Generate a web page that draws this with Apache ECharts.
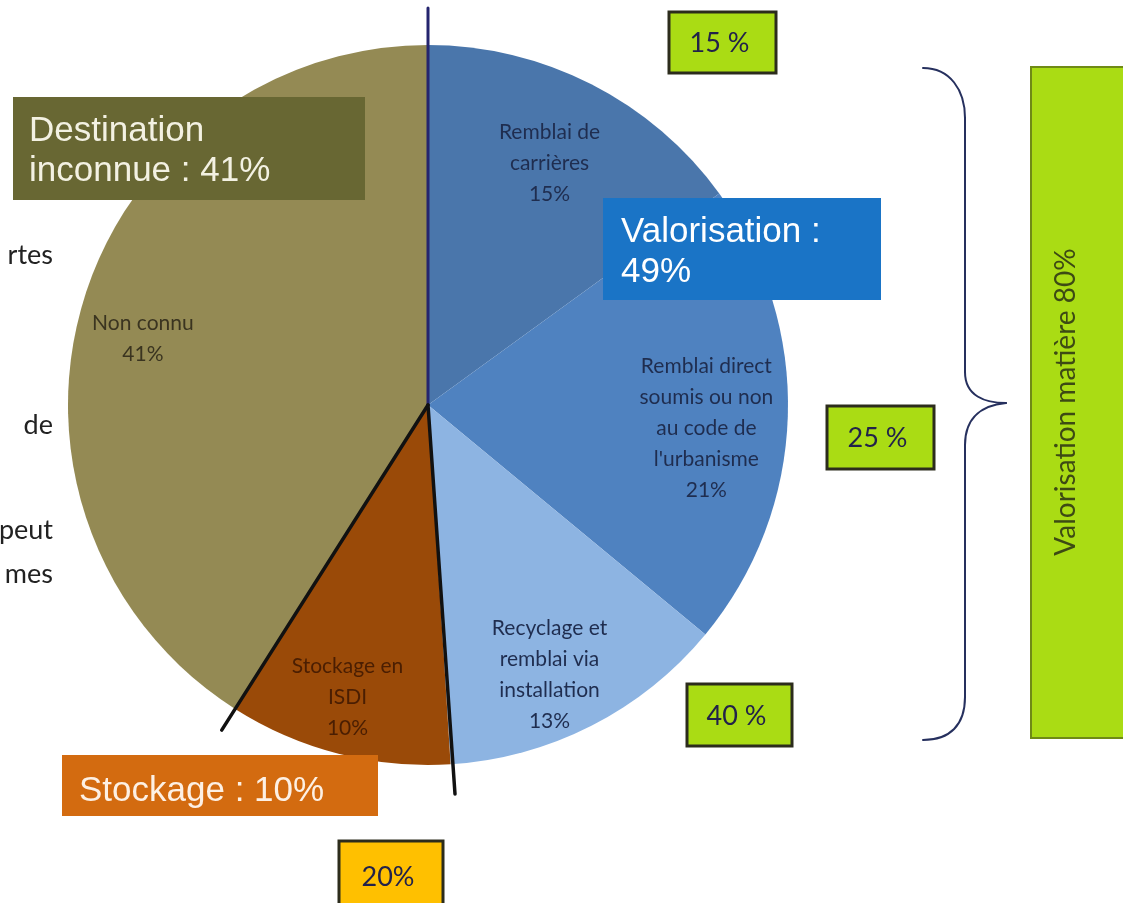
<!DOCTYPE html>
<html>
<head>
<meta charset="utf-8">
<script src="https://cdn.jsdelivr.net/npm/echarts@6/dist/echarts.min.js"></script>
<style>
  html, body { margin: 0; padding: 0; background: #fff; }
  #chart { width: 1123px; height: 903px; }
</style>
</head>
<body>
<div id="chart"></div>
<script>
// données du camembert (destination des déblais)
const categories = [
  'Remblai de\ncarrières',
  'Remblai direct\nsoumis ou non\nau code de\nl\'urbanisme',
  'Recyclage et\nremblai via\ninstallation',
  'Stockage en\nISDI',
  'Non connu'
];
const shares = [15, 21, 13, 10, 41];
const sliceColors = ['#4a76ab', '#4f82c0', '#8db4e2', '#9a4a08', '#948a54'];
const labelColors = ['#1f2d4f', '#1f2d4f', '#1f2d4f', '#4a1e02', '#3a3420'];

// encadrés d'annotation
const groupTexts = ['Destination\ninconnue : 41%', 'Valorisation :\n49%', 'Stockage : 10%'];
const boxTexts = ['15 %', '25 %', '40 %', '20%'];
const sideText = 'Valorisation matière 80%';
const leftFragments = ['rtes', 'de', 'peut', 'mes'];

const myChart = echarts.init(document.getElementById('chart'));

const pieData = categories.map((name, i) => ({
  name: name,
  value: shares[i],
  itemStyle: { color: sliceColors[i] }
}));
const labelData = categories.map((name, i) => ({
  name: name,
  value: shares[i],
  label: { color: labelColors[i] }
}));

const cx = 428, cy = 405, R = 360;

const lineStyle = (color, w) => ({ stroke: color, lineWidth: w, lineCap: 'round' });
const boxText = (t, x, y, size, color) => ({
  type: 'text', z: 110, x: x, y: y,
  style: { text: t, x: 0, y: 0, font: size + 'px "Liberation Sans", Arial, sans-serif',
    fill: color, lineHeight: 40, textAlign: 'left', textVerticalAlign: 'middle',
    align: 'left', verticalAlign: 'middle' }
});
const smallBox = (x, y, w, h, fill, t) => ([
  { type: 'rect', z: 100, shape: { x: x, y: y, width: w, height: h },
    style: { fill: fill, stroke: '#2c2c1c', lineWidth: 3 } },
  { type: 'text', z: 110, x: x + w / 2 - 3, y: y + h / 2 + 1,
    style: { text: t, x: 0, y: 0, font: '27px Lato, sans-serif', fill: '#22224a',
      textAlign: 'center', textVerticalAlign: 'middle', align: 'center', verticalAlign: 'middle' } }
]);
const fragment = (t, y) => ({
  type: 'text', z: 110, x: 53, y: y,
  style: { text: t, x: 0, y: 0, font: '27px Lato, sans-serif', fill: '#222',
    textAlign: 'right', textVerticalAlign: 'middle', align: 'right', verticalAlign: 'middle' }
});

// angle de la limite Stockage / Non connu
const cut = (shares[0] + shares[1] + shares[2] + shares[3]) / 100 * 2 * Math.PI;
const braceColor = '#26305e';
const graphics = [
  // traits sur le camembert
  { type: 'line', z: 90, shape: { x1: cx, y1: 8, x2: cx, y2: cy }, style: lineStyle('#24246e', 3) },
  { type: 'line', z: 90, shape: { x1: cx, y1: cy, x2: cx + 385 * Math.sin(cut), y2: cy - 385 * Math.cos(cut) }, style: lineStyle('#111', 3.5) },
  { type: 'line', z: 90, shape: { x1: cx, y1: cy, x2: 455, y2: 794 }, style: lineStyle('#111', 3.5) },

  // encadrés des groupes
  { type: 'rect', z: 100, shape: { x: 13, y: 97, width: 352, height: 103 }, style: { fill: '#686733' } },
  boxText(groupTexts[0], 29, 151, 35, '#f3f1e2'),
  { type: 'rect', z: 100, shape: { x: 603, y: 198, width: 278, height: 102 }, style: { fill: '#1a74c6' } },
  boxText(groupTexts[1], 621, 252, 35, '#ffffff'),
  { type: 'rect', z: 100, shape: { x: 62, y: 755, width: 316, height: 61 }, style: { fill: '#d36b10' } },
  boxText(groupTexts[2], 79, 791, 35, '#fdf0e4'),

  // accolade
  { type: 'bezierCurve', z: 90, shape: { x1: 923, y1: 68, cpx1: 950, cpy1: 68, cpx2: 965, cpy2: 90, x2: 965, y2: 118 }, style: lineStyle(braceColor, 2) },
  { type: 'line', z: 90, shape: { x1: 965, y1: 118, x2: 965, y2: 372 }, style: lineStyle(braceColor, 2) },
  { type: 'bezierCurve', z: 90, shape: { x1: 965, y1: 372, cpx1: 965, cpy1: 396, cpx2: 985, cpy2: 403, x2: 1006, y2: 403 }, style: lineStyle(braceColor, 2) },
  { type: 'bezierCurve', z: 90, shape: { x1: 1006, y1: 403, cpx1: 985, cpy1: 405, cpx2: 965, cpy2: 415, x2: 965, y2: 445 }, style: lineStyle(braceColor, 2) },
  { type: 'line', z: 90, shape: { x1: 965, y1: 445, x2: 965, y2: 697 }, style: lineStyle(braceColor, 2) },
  { type: 'bezierCurve', z: 90, shape: { x1: 965, y1: 697, cpx1: 965, cpy1: 725, cpx2: 950, cpy2: 740, x2: 923, y2: 740 }, style: lineStyle(braceColor, 2) },

  // grand encadré vertical
  { type: 'rect', z: 100, shape: { x: 1031, y: 67, width: 100, height: 671 },
    style: { fill: '#aadc14', stroke: '#6f8a16', lineWidth: 2 } },
  { type: 'text', z: 110, x: 1066, y: 402, rotation: Math.PI / 2,
    style: { text: sideText, x: 0, y: 0, font: '28px Lato, sans-serif', fill: '#3d4a14',
      textAlign: 'center', textVerticalAlign: 'middle', align: 'center', verticalAlign: 'middle' } },

  // textes coupés à gauche
  fragment(leftFragments[0], 255),
  fragment(leftFragments[1], 425),
  fragment(leftFragments[2], 530),
  fragment(leftFragments[3], 574)
]
  .concat(smallBox(669, 12, 107, 61, '#aadc14', boxTexts[0]))
  .concat(smallBox(827, 406, 107, 63, '#aadc14', boxTexts[1]))
  .concat(smallBox(687, 684, 105, 62, '#aadc14', boxTexts[2]))
  .concat(smallBox(339, 841, 104, 70, '#ffc000', boxTexts[3]));

myChart.setOption({
  animation: false,
  backgroundColor: '#ffffff',
  series: [
    {
      type: 'pie',
      center: [cx, cy],
      radius: R,
      startAngle: 90,
      clockwise: true,
      silent: true,
      z: 2,
      label: { show: false },
      labelLine: { show: false },
      itemStyle: { borderWidth: 0 },
      data: pieData
    },
    {
      // couche transparente pour placer les étiquettes vers le bord
      type: 'pie',
      center: [cx, cy],
      radius: [Math.round(R * 0.58), R],
      startAngle: 90,
      clockwise: true,
      silent: true,
      z: 3,
      itemStyle: { color: 'rgba(0,0,0,0)', borderWidth: 0 },
      labelLine: { show: false },
      label: {
        show: true,
        position: 'inside',
        fontFamily: 'Lato, sans-serif',
        fontSize: 21,
        lineHeight: 31,
        offset: [-9, 14],
        formatter: (p) => p.name + '\n' + p.value + '%'
      },
      data: labelData
    }
  ],
  graphic: { elements: graphics }
});
</script>
</body>
</html>
